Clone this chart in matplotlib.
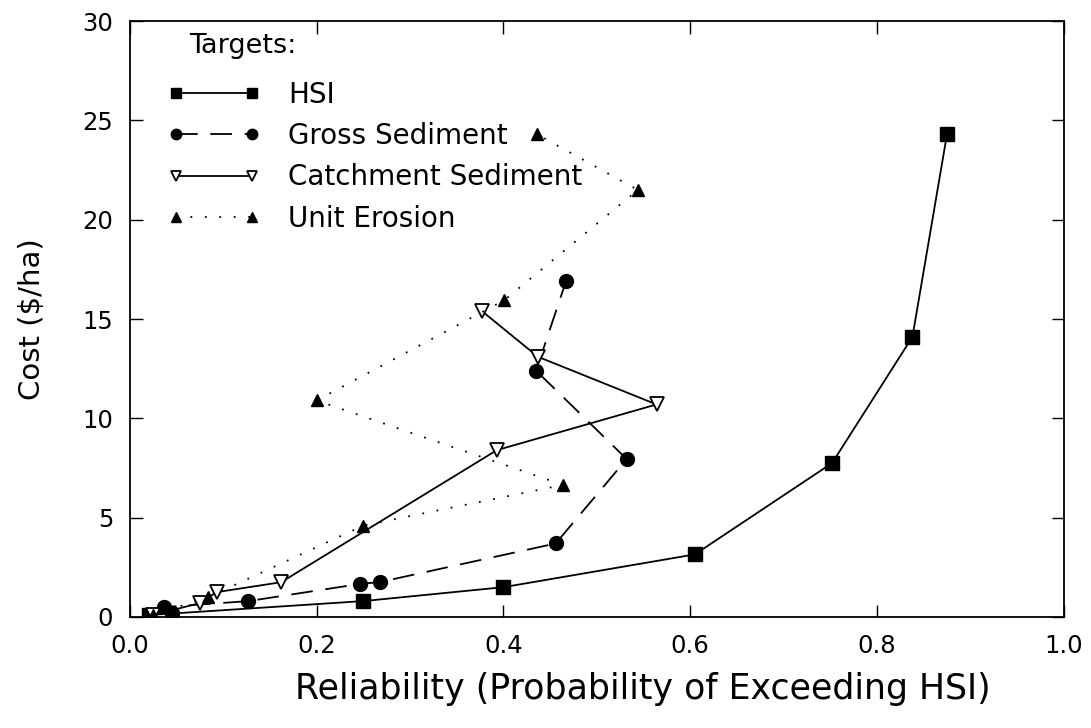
import numpy as np
import matplotlib.pyplot as plt
from matplotlib.ticker import FormatStrFormatter

plt.rcParams['font.family'] = ['DejaVu Sans']

# reliability (x) and cost $/ha (y) for each target
hsi_x = [0.021, 0.25, 0.40, 0.605, 0.752, 0.838, 0.875]
hsi_y = [0.1, 0.8, 1.5, 3.15, 7.75, 14.1, 24.3]

gross_x = [0.045, 0.037, 0.127, 0.246, 0.268, 0.456, 0.532, 0.435, 0.467]
gross_y = [0.2, 0.5, 0.8, 1.66, 1.76, 3.7, 7.95, 12.4, 16.9]

catch_x = [0.025, 0.075, 0.093, 0.162, 0.393, 0.564, 0.437, 0.377]
catch_y = [0.1, 0.7, 1.25, 1.75, 8.4, 10.7, 13.1, 15.4]

unit_x = [0.025, 0.084, 0.25, 0.464, 0.20, 0.401, 0.544, 0.436]
unit_y = [0.1, 1.0, 4.6, 6.65, 10.9, 15.95, 21.5, 24.3]

fig = plt.figure(figsize=(10.91, 7.28), dpi=100)
ax = fig.add_axes([0.119, 0.1525, 0.856, 0.8185])

ax.plot(hsi_x, hsi_y, color='black', lw=1.3, ls='-', marker='s', ms=10,
        label='HSI')
ax.plot(gross_x, gross_y, color='black', lw=1.3, ls=(0, (12, 7)), marker='o',
        ms=10, label='Gross Sediment')
ax.plot(catch_x, catch_y, color='black', lw=1.3, ls='-', marker='v', ms=10,
        mfc='white', mew=1.3, label='Catchment Sediment')
ax.plot(unit_x, unit_y, color='black', lw=1.3, ls=(0, (1, 7)), marker='^',
        ms=9, label='Unit Erosion')

ax.set_xlim(0, 1.0)
ax.set_ylim(0, 30)
ax.set_xticks(np.arange(0, 1.01, 0.2))
ax.set_yticks(np.arange(0, 31, 5))
ax.xaxis.set_major_formatter(FormatStrFormatter('%.1f'))
ax.tick_params(direction='in', length=9, width=1, labelsize=17.5, pad=12,
               top=True, right=True)
for s in ax.spines.values():
    s.set_linewidth(1.3)

ax.set_xlabel('Reliability (Probability of Exceeding HSI)', fontsize=25)
ax.xaxis.set_label_coords(0.549, -0.093)
ax.set_ylabel('Cost (\\$/ha)', fontsize=21, labelpad=26)

ax.text(0.064, 0.958, 'Targets:', transform=ax.transAxes, fontsize=19.5,
        ha='left', va='center')
leg = ax.legend(loc='upper left', bbox_to_anchor=(0.04, 0.9),
                borderaxespad=0, borderpad=0, frameon=False,
                numpoints=2, handlelength=3.35, handletextpad=1.0,
                labelspacing=0.48, fontsize=20, markerscale=0.75)

fig.savefig('out.png', dpi=100)
